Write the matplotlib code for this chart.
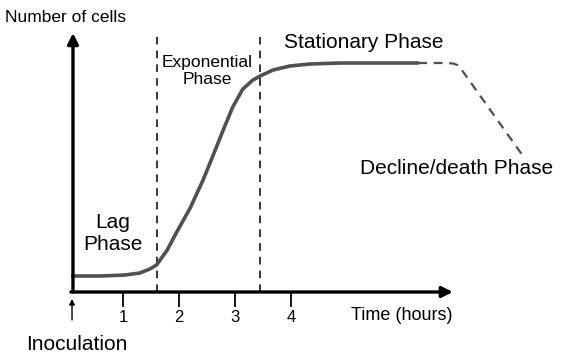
import matplotlib
matplotlib.use('Agg')
import matplotlib.pyplot as plt

plt.rcParams['font.family'] = ['Liberation Sans', 'DejaVu Sans']

# growth curve (time in hours, cells in arbitrary units)
growth_hours = [0.1, 0.6, 1.04, 1.3, 1.48, 1.6, 1.79, 1.96, 2.2, 2.43, 2.59, 2.79, 2.96,
                3.14, 3.32, 3.45, 3.68, 3.98, 4.34, 4.88, 6.27]
growth_cells = [0.8, 0.8, 0.85, 0.95, 1.15, 1.35, 2.1, 3.0, 4.2, 5.6, 6.7, 8.1, 9.25,
                10.15, 10.6, 10.8, 11.1, 11.3, 11.4, 11.45, 11.45]
# decline part (dashed)
decline_hours = [6.27, 6.8, 6.9, 6.97, 7.05, 8.13]
decline_cells = [11.45, 11.45, 11.42, 11.35, 11.1, 6.85]

phase_bounds = [1.6, 3.45]
tick_hours = [1, 2, 3, 4]

fig = plt.figure(figsize=(5.68, 3.57), dpi=100)
ax = fig.add_axes([0, 0, 1, 1])
ax.set_xlim(-1.196, 8.946)
ax.set_ylim(-3.25, 14.6)
ax.axis('off')

# axes with arrows
ax.annotate('', xy=(0.107, 12.95), xytext=(0.107, 0),
            arrowprops=dict(arrowstyle='-|>', lw=2.4, color='k', mutation_scale=16,
                            shrinkA=0, shrinkB=0))
ax.annotate('', xy=(6.89, 0), xytext=(0.07, 0),
            arrowprops=dict(arrowstyle='-|>', lw=2.4, color='k', mutation_scale=16,
                            shrinkA=0, shrinkB=0))

# ticks
for h in tick_hours:
    ax.plot([h, h], [0, -0.72], color='k', lw=1.3)
    ax.text(h, -1.25, str(h), ha='center', va='center', fontsize=12)

# phase boundaries
for b in phase_bounds:
    ax.plot([b, b], [0, 12.95], color='k', lw=1.1, ls=(0, (5, 4)))

ax.plot(growth_hours, growth_cells, color='#505050', lw=2.6, solid_capstyle='round',
        solid_joinstyle='round')
ax.plot(decline_hours, decline_cells, color='#505050', lw=1.6, ls=(0, (4, 3)))

# inoculation arrow
ax.annotate('', xy=(0.09, -0.35), xytext=(0.09, -1.4),
            arrowprops=dict(arrowstyle='-|>', lw=1.0, color='k', mutation_scale=8,
                            shrinkA=0, shrinkB=0))

ax.text(-1.107, 13.75, 'Number of cells', ha='left', va='center', fontsize=12.5)
ax.text(2.5, 11.05, 'Exponential\nPhase', ha='center', va='center', fontsize=12.5,
        linespacing=1.15)
ax.text(5.3, 12.5, 'Stationary Phase', ha='center', va='center', fontsize=15)
ax.text(0.82, 2.95, 'Lag\nPhase', ha='center', va='center', fontsize=15, linespacing=1.2)
ax.text(6.95, 6.2, 'Decline/death Phase', ha='center', va='center', fontsize=15)
ax.text(5.98, -1.15, 'Time (hours)', ha='center', va='center', fontsize=13)
ax.text(0.18, -2.65, 'Inoculation', ha='center', va='center', fontsize=15)

plt.savefig('out.png', dpi=100)
